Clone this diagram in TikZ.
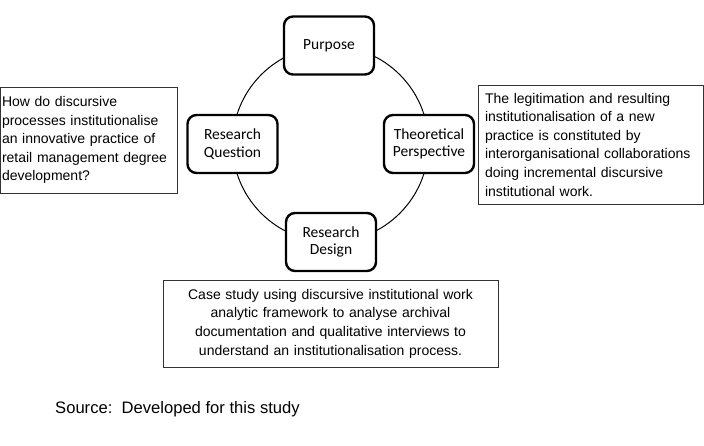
\documentclass[tikz,border=0pt]{standalone}
\usepackage{fontspec}
\setmainfont{Liberation Sans}
\newfontfamily\calib{Carlito}
\begin{document}
\begin{tikzpicture}[x=1pt,y=-1pt,
  stage/.style={draw, line width=2.4pt, rounded corners=9pt, fill=white,
    minimum width=90pt, minimum height=58pt, align=center, inner sep=2pt,
    font=\calib\fontsize{15.5}{17.7}\selectfont},
  textbox/.style={draw, line width=0.9pt, draw=black!80, fill=white,
    font=\fontsize{14}{18.6}\selectfont}]
\useasboundingbox (0,0) rectangle (704,445);
\draw[line width=1pt] (330.5,144) circle[radius=98];
\node[stage] (purpose) at (329,45.5) {Purpose};
\node[stage] (question) at (232.5,144) {Research\\Question};
\node[stage] (theory) at (429,144) {Theoretical\\Perspective};
\node[stage] (design) at (331,242) {Research\\Design};
\node[textbox, minimum width=177pt, minimum height=106pt, text width=173pt,
  inner xsep=2pt, align=left] (qtext) at (88.5,140) {How do discursive\\processes institutionalise\\an innovative practice of\\retail management degree\\development?};
\node[textbox, minimum width=225pt, minimum height=119pt, text width=211pt,
  inner xsep=7pt, align=left] (ttext) at (590.5,144.5) {The legitimation and resulting\\institutionalisation of a new\\practice is constituted by\\interorganisational collaborations\\doing incremental discursive\\institutional work.};
\node[textbox, minimum width=335pt, minimum height=87pt, text width=325pt,
  align=center] (dtext) at (330.5,323.5) {Case study using discursive institutional work\\analytic framework to analyse archival\\documentation and qualitative interviews to\\understand an institutionalisation process.};
\node[anchor=west, inner sep=0pt, font=\fontsize{16.6}{18}\selectfont] (source) at (55,409) {Source:\ \ Developed for this study};
\end{tikzpicture}
\end{document}
